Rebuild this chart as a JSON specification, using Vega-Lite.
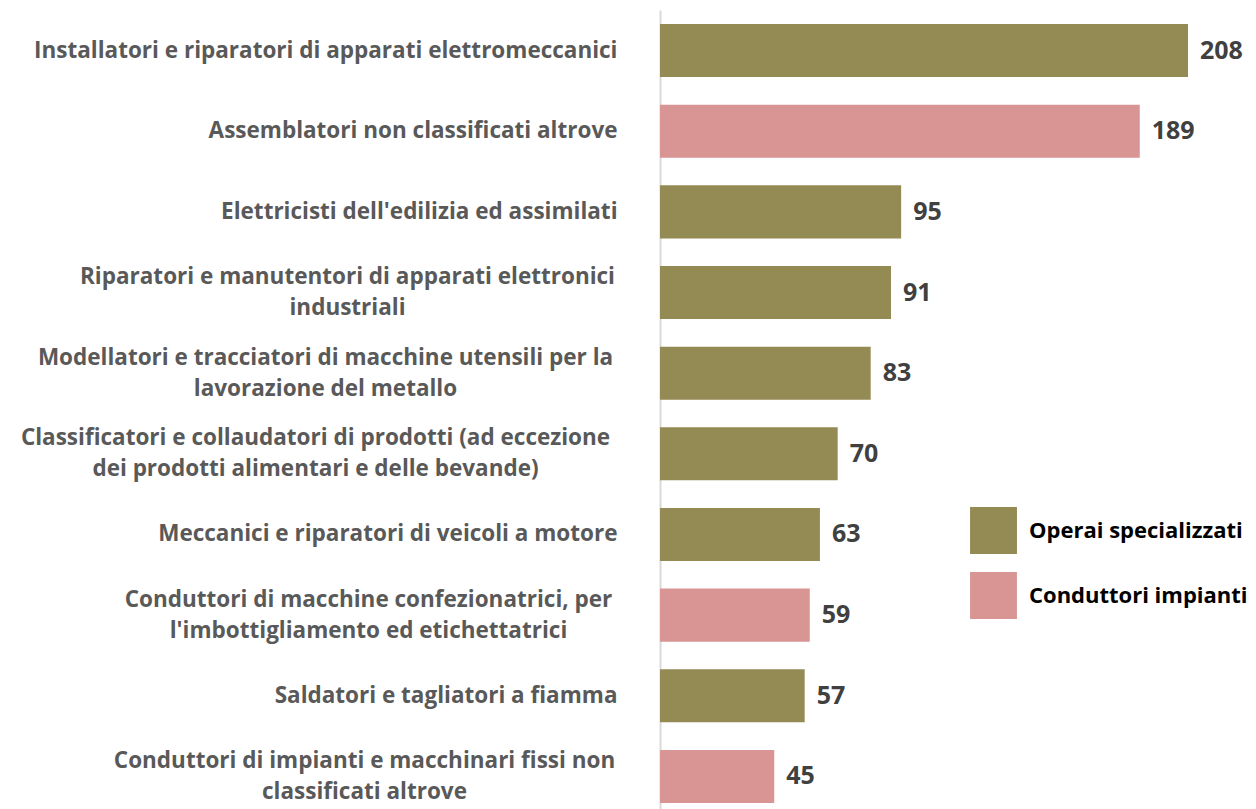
{
  "$schema": "https://vega.github.io/schema/vega-lite/v6.json",
  "autosize": {"type": "none"},
  "padding": {"left": 660, "top": 10, "right": 68, "bottom": 0},
  "width": 528,
  "height": 799,
  "background": "white",
  "data": {"values": [
    {"label": "Installatori e riparatori di apparati elettromeccanici", "value": 208, "group": "Operai specializzati"},
    {"label": "Assemblatori non classificati altrove", "value": 189, "group": "Conduttori impianti"},
    {"label": "Elettricisti dell'edilizia ed assimilati", "value": 95, "group": "Operai specializzati"},
    {"label": "Riparatori e manutentori di apparati elettronici|industriali", "value": 91, "group": "Operai specializzati"},
    {"label": "Modellatori e tracciatori di macchine utensili per la|lavorazione del metallo", "value": 83, "group": "Operai specializzati"},
    {"label": "Classificatori e collaudatori di prodotti (ad eccezione|dei prodotti alimentari e delle bevande)", "value": 70, "group": "Operai specializzati"},
    {"label": "Meccanici e riparatori di veicoli a motore", "value": 63, "group": "Operai specializzati"},
    {"label": "Conduttori di macchine confezionatrici, per|l'imbottigliamento ed etichettatrici", "value": 59, "group": "Conduttori impianti"},
    {"label": "Saldatori e tagliatori a fiamma", "value": 57, "group": "Operai specializzati"},
    {"label": "Conduttori di impianti e macchinari fissi non|classificati altrove", "value": 45, "group": "Conduttori impianti"}
  ]},
  "config": {"view": {"stroke": null}, "font": "Open Sans"},
  "encoding": {
    "y": {
      "field": "label", "type": "nominal", "sort": null,
      "scale": {"paddingInner": 0.342, "paddingOuter": 0.124, "align": 0.7},
      "axis": {
        "title": null, "ticks": false, "grid": false,
        "domainColor": "#d9d9d9", "domainWidth": 2,
        "labelExpr": "split(datum.label, '|')",
        "labelFont": "Open Sans", "labelFontWeight": "bold", "labelFontSize": 22.5,
        "labelColor": "#595959", "labelLineHeight": 31,
        "labelLimit": 700,
        "labelAlign": {"condition": {"test": "indexof(datum.value, '|') >= 0", "value": "center"}, "value": "right"},
        "labelOffset": {"condition": {"test": "indexof(datum.value, '|') >= 0", "value": -15.5}, "value": 0},
        "labelPadding": {"condition": [
          {"test": "indexof(datum.value, 'Riparatori') == 0", "value": 313},
          {"test": "indexof(datum.value, 'Modellatori') == 0", "value": 335},
          {"test": "indexof(datum.value, 'Classificatori') == 0", "value": 345},
          {"test": "indexof(datum.value, 'Conduttori di macchine') == 0", "value": 292},
          {"test": "indexof(datum.value, 'Conduttori di impianti') == 0", "value": 296}
        ], "value": 43}
      }
    },
    "x": {
      "field": "value", "type": "quantitative",
      "scale": {"domain": [0, 208], "nice": false},
      "axis": null
    }
  },
  "layer": [
    {
      "mark": {"type": "bar"},
      "encoding": {
        "color": {
          "field": "group", "type": "nominal",
          "scale": {"domain": ["Operai specializzati", "Conduttori impianti"], "range": ["#948A54", "#D99594"]},
          "legend": {
            "title": null, "orient": "none", "legendX": 310, "legendY": 497,
            "symbolType": "square", "symbolSize": 2200, "symbolStrokeWidth": 0,
            "labelFont": "Open Sans", "labelFontWeight": "bold", "labelFontSize": 22,
            "labelColor": "#000000", "rowPadding": 18, "labelOffset": 12, "labelLimit": 400
          }
        }
      }
    },
    {
      "mark": {"type": "text", "align": "left", "baseline": "middle", "dx": 12, "font": "Open Sans", "fontWeight": "bold", "fontSize": 25, "color": "#404040"},
      "encoding": {"text": {"field": "value", "type": "quantitative"}}
    }
  ]
}
